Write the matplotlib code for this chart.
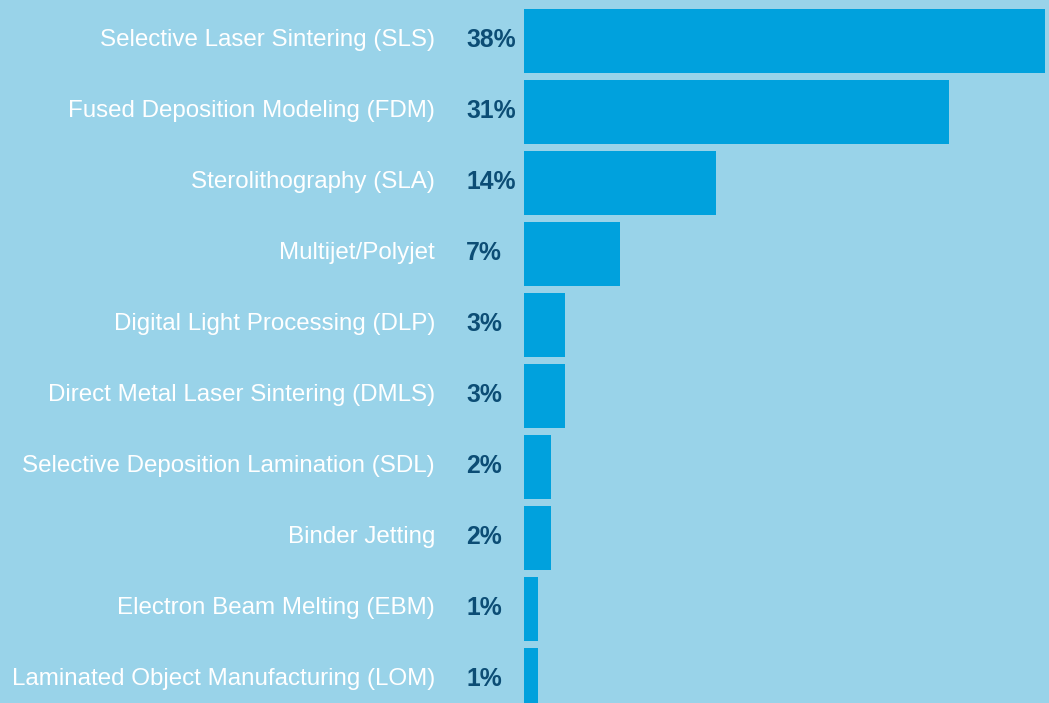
import matplotlib.pyplot as plt

methods = [
    "Selective Laser Sintering (SLS)",
    "Fused Deposition Modeling (FDM)",
    "Sterolithography (SLA)",
    "Multijet/Polyjet",
    "Digital Light Processing (DLP)",
    "Direct Metal Laser Sintering (DMLS)",
    "Selective Deposition Lamination (SDL)",
    "Binder Jetting",
    "Electron Beam Melting (EBM)",
    "Laminated Object Manufacturing (LOM)",
]
shares = [38, 31, 14, 7, 3, 3, 2, 2, 1, 1]

bg = "#99d3e9"
bar_col = "#00a1dd"
pct_col = "#0c4d75"

fig = plt.figure(figsize=(10.49, 7.03), dpi=100, facecolor=bg)
ax = fig.add_axes([0, 0, 1, 1])
ax.set_facecolor(bg)

ypos = list(range(len(methods)))
ax.barh(ypos, shares, height=0.9, color=bar_col, left=0)

# pixel scale: 38% spans ~521 px, bars start at ~524 px
px = 521 / 38
ax.set_xlim(-524 / px, (1049 - 524) / px)
ax.set_ylim((703 - 41) / 71, -41 / 71)

for y, name, v in zip(ypos, methods, shares):
    ax.annotate(name, (0, y), xytext=(-89, 1), textcoords="offset pixels",
                ha="right", va="center", color="white", fontsize=17.4,
                family="Liberation Sans")
    ax.annotate(f"{v}%", (0, y), xytext=(-58, 1), textcoords="offset pixels",
                ha="left", va="center", color=pct_col, fontsize=17.8,
                fontweight="bold", family="Liberation Sans")

ax.axis("off")
fig.savefig("out.png", dpi=100, facecolor=bg)
